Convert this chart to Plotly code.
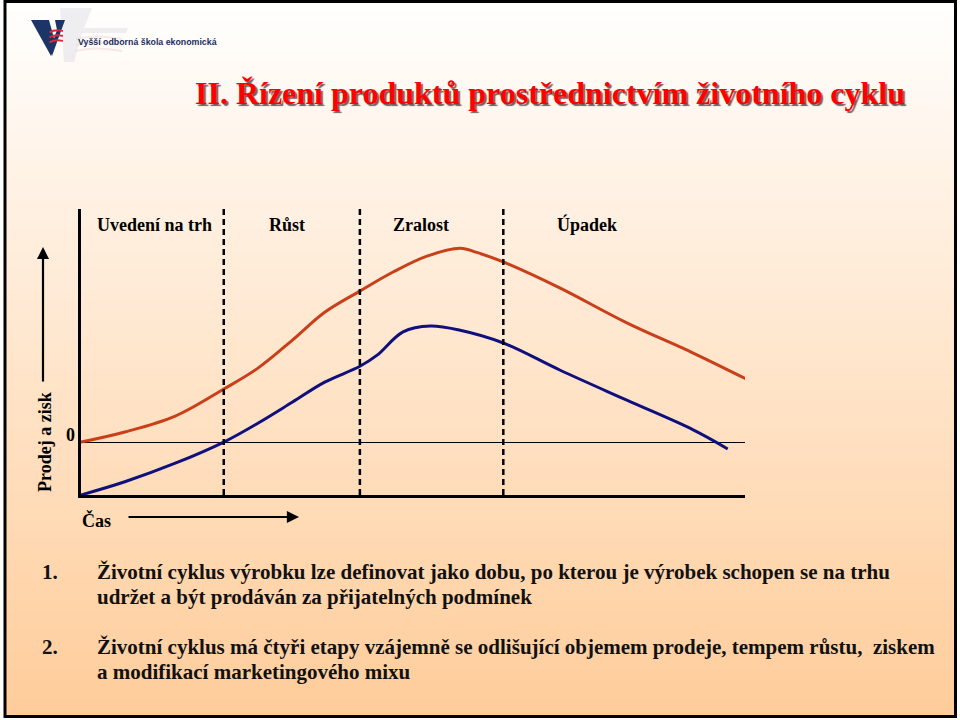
import plotly.graph_objects as go

# ---------------- data ----------------
time_prodej = [0, 6.6, 14.2, 21.5, 26.7, 31.8, 36.7, 42.0, 47.0, 52.1, 57.1, 59.6, 63.6, 72.1, 82.2, 92.2, 100.5]
val_prodej = [0, 1.9, 4.9, 10.0, 14.0, 19.2, 24.5, 28.5, 32.1, 35.1, 36.6, 35.8, 34.0, 29.1, 22.5, 16.8, 11.7]

time_zisk = [0, 6.6, 14.2, 21.5, 26.7, 31.8, 36.7, 42.0, 44.6, 48.5, 52.6, 57.1, 63.6, 72.1, 82.2, 92.2, 97.4]
val_zisk = [-10, -7.5, -4.0, 0, 3.6, 7.5, 11.3, 14.3, 16.4, 20.8, 21.9, 21.1, 18.7, 13.6, 7.9, 2.3, -1.3]

phase_bounds = [21.5, 42.0, 63.6]
phase_names = ["Uvedení na trh", "Růst", "Zralost", "Úpadek"]
phase_label_pos = [11.1, 31.0, 51.2, 76.2]

series_names = ["Prodej", "Zisk"]
series_label_y = [12.3, -0.2]

title = "II. Řízení produktů prostřednictvím životního cyklu"
bullets = [
    ("1.", ["Životní cyklus výrobku lze definovat jako dobu, po kterou je výrobek schopen se na trhu",
            "udržet a být prodáván za přijatelných podmínek"]),
    ("2.", ["Životní cyklus má čtyři etapy vzájemně se odlišující objemem prodeje, tempem růstu,  ziskem",
            "a modifikací marketingového mixu"]),
]

# ---------------- helpers ----------------
W, H = 960, 720
def P(px):
    return px / W
def Q(py):
    return 1 - py / H

RED = "#c8401a"
BLUE = "#10107d"
SERIF = "Times New Roman, Liberation Serif, DejaVu Serif, serif"
SANS = "Liberation Sans, Arial, sans-serif"

fig = go.Figure()

fig.add_trace(go.Scatter(x=time_prodej, y=val_prodej, mode="lines",
                         line=dict(color=RED, width=3, shape="spline", smoothing=1.0),
                         hoverinfo="skip", showlegend=False))
fig.add_trace(go.Scatter(x=time_zisk, y=val_zisk, mode="lines",
                         line=dict(color=BLUE, width=3, shape="spline", smoothing=1.0),
                         hoverinfo="skip", showlegend=False))

shapes = []
# background gradient (white -> peach) inside frame
n = 72
for i in range(n):
    y0 = i * H / n
    y1 = (i + 1) * H / n
    f = (y0 + y1) / 2 / H
    g = round(255 - 51 * f)
    b = round(255 - 102 * f)
    shapes.append(dict(type="rect", xref="paper", yref="paper",
                       x0=P(5), x1=P(955), y0=Q(max(y0, 2)), y1=Q(min(y1 + 0.5, 717)),
                       fillcolor=f"rgb(255,{g},{b})", line=dict(width=0), layer="below"))
# frame
shapes.append(dict(type="rect", xref="paper", yref="paper",
                   x0=P(5), x1=P(955.5), y0=Q(716.5), y1=Q(1.5),
                   line=dict(color="black", width=3), layer="above"))

def path(points):
    return "M " + " L ".join(f"{P(x)},{Q(y)}" for x, y in points) + " Z"

# logo watermark (faint)
shapes.append(dict(type="path", xref="paper", yref="paper",
                   path=path([(60, 8), (92, 8), (84, 28), (128, 28), (126, 33), (82, 33), (74, 62), (64, 62)]),
                   fillcolor="rgba(205,210,220,0.35)", line=dict(width=0), layer="below"))
for yy in [38, 44, 50]:
    shapes.append(dict(type="path", xref="paper", yref="paper",
                       path=f"M {P(76)},{Q(yy)} Q {P(95)},{Q(yy-5)} {P(122)},{Q(yy)} L {P(122)},{Q(yy+2)} Q {P(95)},{Q(yy-3)} {P(76)},{Q(yy+2)} Z",
                       fillcolor="rgba(235,195,195,0.35)", line=dict(width=0), layer="below"))
# logo V (navy arms)
shapes.append(dict(type="path", xref="paper", yref="paper",
                   path=path([(31, 20), (49, 20), (55, 42), (51, 56)]),
                   fillcolor="#1c3566", line=dict(width=0), layer="above"))
shapes.append(dict(type="path", xref="paper", yref="paper",
                   path=path([(55, 20), (65, 20), (52, 56), (50, 50), (57, 30)]),
                   fillcolor="#1c3566", line=dict(width=0), layer="above"))
# red waves
for yy in [30, 35, 40]:
    shapes.append(dict(type="path", xref="paper", yref="paper",
                       path=f"M {P(49)},{Q(yy+1.5)} Q {P(55)},{Q(yy-2)} {P(63)},{Q(yy)} L {P(63)},{Q(yy+1.8)} Q {P(55)},{Q(yy)} {P(50)},{Q(yy+3.2)} Z",
                       fillcolor="#d8283a", line=dict(width=0), layer="above"))

# phase boundaries (dashed)
for b in phase_bounds:
    shapes.append(dict(type="line", xref="x", yref="y", x0=b, x1=b, y0=-10, y1=44,
                       line=dict(color="black", width=2.5, dash="6px,4px"), layer="above"))

annotations = []
annotations.append(dict(text=title, xref="paper", yref="paper", x=P(550), y=Q(93),
                        showarrow=False, xanchor="center", yanchor="middle",
                        font=dict(family=SERIF, size=32, color="#ff0000", weight="bold",
                                  shadow="2px 2px 1px rgba(70,40,40,0.75)")))
annotations.append(dict(text="Vyšší odborná škola ekonomická", xref="paper", yref="paper",
                        x=P(76), y=Q(42), showarrow=False, xanchor="left", yanchor="middle",
                        font=dict(family=SANS, size=8.8, color="#1c2f5e", weight="bold")))
for name, pos in zip(phase_names, phase_label_pos):
    annotations.append(dict(text=name, xref="x", yref="y", x=pos, y=41, showarrow=False,
                            xanchor="center", yanchor="middle",
                            font=dict(family=SERIF, size=18, color="black", weight="bold")))
for name, yv, col in zip(series_names, series_label_y, ["#a8301a", "#2a2aa0"]):
    annotations.append(dict(text=name, xref="x", yref="y", x=103.5, y=yv, showarrow=False,
                            xanchor="left", yanchor="middle",
                            font=dict(family=SERIF, size=18.5, color=col, weight="bold",
                                      shadow="1px 1px 1px rgba(80,80,80,0.6)")))
annotations.append(dict(text="0", xref="paper", yref="paper", x=P(70), y=Q(434.5), showarrow=False,
                        xanchor="center", yanchor="middle",
                        font=dict(family=SERIF, size=18, color="black", weight="bold")))
annotations.append(dict(text="Prodej a zisk", xref="paper", yref="paper", x=P(45), y=Q(442),
                        showarrow=False, textangle=-90, xanchor="center", yanchor="middle",
                        font=dict(family=SERIF, size=18, color="black", weight="bold")))
annotations.append(dict(text="", xref="paper", yref="paper", x=P(43), y=Q(247),
                        ax=0, ay=136, showarrow=True, arrowhead=2, arrowsize=1.1,
                        arrowwidth=2.2, arrowcolor="black"))
annotations.append(dict(text="Čas", xref="paper", yref="paper", x=P(96), y=Q(520),
                        showarrow=False, xanchor="center", yanchor="middle",
                        font=dict(family=SERIF, size=18, color="black", weight="bold")))
annotations.append(dict(text="", xref="paper", yref="paper", x=P(299), y=Q(517),
                        ax=-172, ay=0, showarrow=True, arrowhead=2, arrowsize=1.1,
                        arrowwidth=2.2, arrowcolor="black"))
line_y = [[572, 597], [647, 672]]
for (num, lines), ys in zip(bullets, line_y):
    annotations.append(dict(text=num, xref="paper", yref="paper", x=P(40), y=Q(ys[0]),
                            showarrow=False, xanchor="left", yanchor="middle",
                            font=dict(family=SERIF, size=21, color="#111", weight="bold")))
    for ln, yy in zip(lines, ys):
        annotations.append(dict(text=ln, xref="paper", yref="paper", x=P(95), y=Q(yy),
                                showarrow=False, xanchor="left", yanchor="middle",
                                font=dict(family=SERIF, size=21, color="#111", weight="bold")))

fig.update_layout(
    width=W, height=H,
    margin=dict(l=0, r=0, t=0, b=0),
    paper_bgcolor="white",
    plot_bgcolor="rgba(0,0,0,0)",
    shapes=shapes,
    annotations=annotations,
    xaxis=dict(domain=[P(81), P(745)], range=[0, 100], showline=True, linewidth=3, linecolor="black",
               showgrid=False, zeroline=False, showticklabels=False, ticks="", fixedrange=True),
    yaxis=dict(domain=[Q(495), Q(209)], range=[-10, 44], showline=True, linewidth=3, linecolor="black",
               showgrid=False, zeroline=True, zerolinewidth=1, zerolinecolor="black",
               showticklabels=False, ticks="", fixedrange=True),
    showlegend=False,
)

fig.write_html("out.html")
